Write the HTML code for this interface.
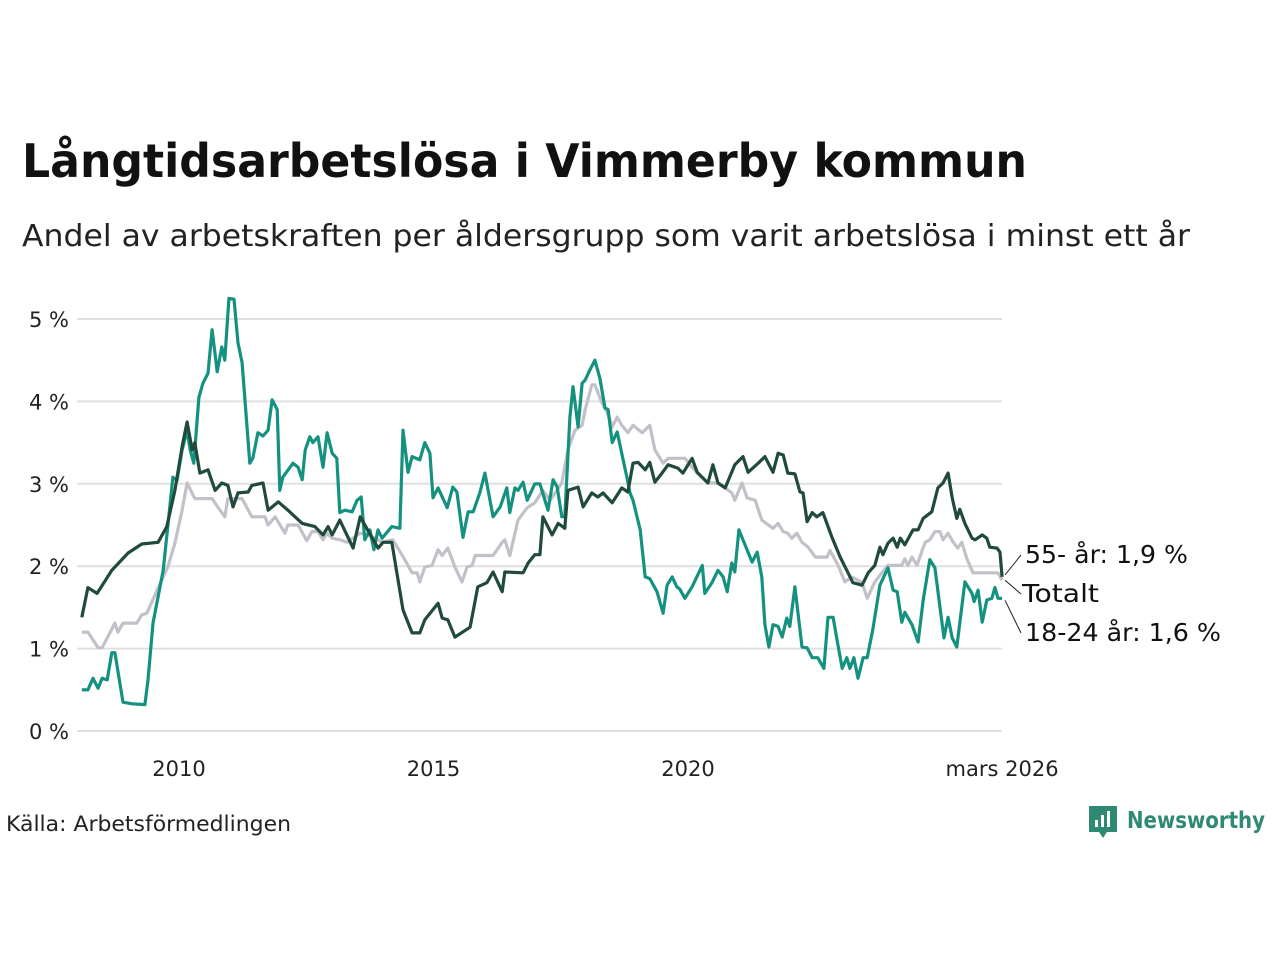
<!DOCTYPE html>
<html><head><meta charset="utf-8">
<style>
body{margin:0;background:#fff;width:1280px;height:960px;overflow:hidden;font-family:"DejaVu Sans","Liberation Sans",sans-serif;}
svg{position:absolute;left:0;top:0}
</style></head>
<body>
<svg id="chart" width="1280" height="960">
<text x="22" y="177" font-size="46" font-weight="bold" fill="#111" textLength="1005" lengthAdjust="spacingAndGlyphs">Långtidsarbetslösa i Vimmerby kommun</text>
<text x="22" y="246" font-size="30" fill="#222" textLength="1168" lengthAdjust="spacingAndGlyphs">Andel av arbetskraften per åldersgrupp som varit arbetslösa i minst ett år</text>
<g id="grid"></g><g id="series"></g><g id="labels"></g>
<text x="6" y="831" font-size="21" fill="#222" textLength="285" lengthAdjust="spacingAndGlyphs">Källa: Arbetsförmedlingen</text>
<g>
<path d="M1089 806 h28 v26 h-10 l-4 6 l-4 -6 h-10 z" fill="#2e8a72"/>
<rect x="1095" y="820" width="3" height="7" fill="#fff"/><rect x="1101" y="815" width="3" height="12" fill="#fff"/><rect x="1107" y="811" width="3" height="16" fill="#fff"/>
<text x="1127" y="828" font-size="23" font-weight="bold" fill="#2e8a72" textLength="138" lengthAdjust="spacingAndGlyphs">Newsworthy</text>
</g>
</svg>
<script>
const yTicks=[0,1,2,3,4,5];
const yTickLabels=["0 %","1 %","2 %","3 %","4 %","5 %"];
const xTicks=[2010,2015,2020,2026.17];
const xTickLabels=["2010","2015","2020","mars 2026"];
const dates55=[2008.09,2008.21,2008.39,2008.68,2009.0,2009.27,2009.59,2009.76,2009.92,2010.06,2010.16,2010.26,2010.31,2010.41,2010.57,2010.71,2010.84,2010.96,2011.06,2011.16,2011.36,2011.43,2011.65,2011.75,2011.95,2012.14,2012.42,2012.67,2012.83,2012.93,2013.01,2013.16,2013.42,2013.56,2013.91,2014.01,2014.18,2014.40,2014.58,2014.73,2014.83,2015.09,2015.17,2015.28,2015.42,2015.72,2015.87,2016.05,2016.17,2016.35,2016.40,2016.76,2016.86,2016.99,2017.09,2017.15,2017.33,2017.45,2017.58,2017.64,2017.84,2017.94,2018.11,2018.23,2018.33,2018.51,2018.70,2018.82,2018.92,2019.02,2019.16,2019.25,2019.35,2019.49,2019.61,2019.80,2019.90,2020.08,2020.18,2020.39,2020.49,2020.59,2020.73,2020.92,2021.08,2021.18,2021.38,2021.51,2021.67,2021.77,2021.87,2021.96,2022.10,2022.20,2022.26,2022.34,2022.44,2022.53,2022.65,2022.83,2022.99,2023.12,2023.24,2023.42,2023.54,2023.67,2023.77,2023.83,2023.93,2024.03,2024.11,2024.17,2024.26,2024.42,2024.52,2024.62,2024.79,2024.91,2025.01,2025.11,2025.19,2025.28,2025.34,2025.44,2025.58,2025.64,2025.78,2025.87,2025.93,2026.07,2026.13,2026.17];
const vals55=[1.38,1.74,1.67,1.95,2.16,2.27,2.29,2.48,2.92,3.45,3.75,3.41,3.5,3.13,3.17,2.92,3.01,2.98,2.72,2.89,2.90,2.98,3.01,2.68,2.78,2.68,2.52,2.48,2.38,2.48,2.38,2.56,2.22,2.6,2.22,2.29,2.29,1.47,1.19,1.19,1.35,1.55,1.37,1.35,1.14,1.26,1.75,1.80,1.93,1.69,1.93,1.92,2.04,2.14,2.14,2.6,2.38,2.52,2.46,2.92,2.96,2.72,2.89,2.84,2.89,2.77,2.95,2.90,3.25,3.26,3.17,3.26,3.02,3.13,3.23,3.19,3.13,3.31,3.14,3.01,3.23,3.01,2.95,3.23,3.33,3.14,3.25,3.33,3.14,3.37,3.35,3.13,3.12,2.90,2.89,2.54,2.65,2.6,2.65,2.35,2.11,1.95,1.80,1.77,1.92,2.01,2.23,2.14,2.28,2.34,2.23,2.34,2.26,2.44,2.44,2.58,2.66,2.95,3.01,3.13,2.83,2.58,2.69,2.52,2.34,2.32,2.38,2.34,2.23,2.22,2.17,1.87];
const datesTot=[2008.09,2008.21,2008.41,2008.49,2008.74,2008.80,2008.90,2009.17,2009.27,2009.37,2009.57,2009.78,2009.92,2010.06,2010.16,2010.31,2010.65,2010.77,2010.90,2010.96,2011.24,2011.43,2011.69,2011.75,2011.89,2012.08,2012.14,2012.34,2012.51,2012.61,2012.73,2012.83,2012.91,2013.01,2013.16,2013.30,2013.56,2013.79,2013.99,2014.20,2014.38,2014.58,2014.68,2014.73,2014.83,2014.97,2015.09,2015.17,2015.28,2015.42,2015.56,2015.66,2015.76,2015.82,2016.17,2016.35,2016.40,2016.50,2016.66,2016.84,2016.99,2017.15,2017.29,2017.52,2017.64,2017.78,2017.92,2017.98,2018.11,2018.17,2018.31,2018.41,2018.51,2018.61,2018.70,2018.82,2018.92,2019.10,2019.25,2019.35,2019.51,2019.61,2019.94,2020.08,2020.18,2020.39,2020.59,2020.73,2020.86,2020.92,2021.06,2021.16,2021.32,2021.45,2021.67,2021.77,2021.87,2021.96,2022.04,2022.14,2022.24,2022.36,2022.50,2022.73,2022.79,2022.95,2023.08,2023.22,2023.42,2023.52,2023.67,2023.81,2023.93,2024.20,2024.26,2024.32,2024.40,2024.50,2024.60,2024.66,2024.75,2024.85,2024.95,2025.01,2025.11,2025.21,2025.30,2025.38,2025.48,2025.60,2026.09,2026.17];
const valsTot=[1.20,1.20,1.01,1.01,1.31,1.20,1.31,1.31,1.41,1.43,1.71,1.99,2.28,2.68,3.01,2.82,2.82,2.71,2.60,2.82,2.82,2.60,2.60,2.50,2.60,2.40,2.50,2.50,2.31,2.42,2.42,2.32,2.40,2.34,2.32,2.29,2.40,2.36,2.29,2.32,2.14,1.92,1.92,1.81,1.99,2.01,2.20,2.13,2.22,1.99,1.81,1.99,2.01,2.13,2.13,2.29,2.32,2.13,2.56,2.71,2.77,2.92,2.80,3.01,3.41,3.65,3.71,3.90,4.20,4.20,3.98,3.87,3.69,3.81,3.71,3.62,3.71,3.62,3.71,3.41,3.25,3.31,3.31,3.20,3.13,3.01,3.01,2.95,2.89,2.80,3.01,2.83,2.80,2.56,2.46,2.52,2.42,2.40,2.34,2.40,2.29,2.23,2.11,2.11,2.19,2.01,1.81,1.87,1.80,1.61,1.81,1.92,2.01,2.01,2.09,2.01,2.11,2.01,2.19,2.29,2.32,2.42,2.42,2.32,2.40,2.29,2.22,2.29,2.09,1.92,1.92,1.83];
const dates1824=[2008.09,2008.21,2008.31,2008.41,2008.49,2008.59,2008.68,2008.74,2008.90,2009.08,2009.33,2009.39,2009.49,2009.69,2009.88,2009.96,2010.06,2010.16,2010.22,2010.29,2010.39,2010.47,2010.57,2010.65,2010.75,2010.84,2010.90,2010.98,2011.08,2011.16,2011.24,2011.39,2011.45,2011.55,2011.65,2011.75,2011.83,2011.93,2011.98,2012.04,2012.24,2012.34,2012.42,2012.48,2012.57,2012.63,2012.73,2012.83,2012.91,2013.01,2013.10,2013.16,2013.26,2013.40,2013.50,2013.58,2013.65,2013.75,2013.83,2013.91,2013.99,2014.18,2014.34,2014.40,2014.50,2014.58,2014.73,2014.83,2014.93,2014.99,2015.09,2015.27,2015.38,2015.46,2015.58,2015.68,2015.78,2015.91,2016.01,2016.17,2016.31,2016.44,2016.50,2016.60,2016.66,2016.76,2016.84,2016.99,2017.09,2017.25,2017.35,2017.43,2017.52,2017.58,2017.68,2017.74,2017.84,2017.92,2017.98,2018.07,2018.17,2018.27,2018.37,2018.43,2018.51,2018.61,2018.72,2018.80,2018.86,2018.92,2019.06,2019.16,2019.25,2019.39,2019.51,2019.59,2019.69,2019.78,2019.84,2019.94,2020.08,2020.28,2020.33,2020.47,2020.59,2020.69,2020.77,2020.86,2020.92,2021.00,2021.12,2021.26,2021.36,2021.45,2021.51,2021.59,2021.67,2021.77,2021.85,2021.94,2022.00,2022.10,2022.24,2022.34,2022.44,2022.55,2022.67,2022.75,2022.85,2022.93,2023.03,2023.12,2023.18,2023.26,2023.34,2023.44,2023.52,2023.63,2023.77,2023.93,2024.03,2024.11,2024.20,2024.26,2024.40,2024.52,2024.62,2024.75,2024.85,2024.95,2025.03,2025.11,2025.19,2025.28,2025.44,2025.58,2025.62,2025.70,2025.78,2025.87,2025.97,2026.03,2026.09,2026.17];
const vals1824=[0.50,0.50,0.64,0.52,0.64,0.62,0.95,0.95,0.35,0.33,0.32,0.62,1.31,1.95,3.08,3.04,3.41,3.65,3.41,3.25,4.05,4.22,4.34,4.87,4.36,4.66,4.50,5.25,5.24,4.71,4.47,3.25,3.31,3.62,3.58,3.65,4.02,3.90,2.92,3.08,3.25,3.20,3.05,3.41,3.57,3.50,3.57,3.20,3.62,3.37,3.31,2.65,2.68,2.66,2.80,2.84,2.32,2.44,2.20,2.44,2.34,2.48,2.46,3.65,3.14,3.33,3.29,3.50,3.37,2.83,2.95,2.71,2.96,2.90,2.35,2.66,2.66,2.89,3.13,2.60,2.72,2.95,2.65,2.95,2.92,3.02,2.80,3.0,3.0,2.68,3.05,2.96,2.60,2.60,3.81,4.18,3.69,4.22,4.26,4.38,4.50,4.28,3.92,3.90,3.50,3.63,3.31,3.08,2.89,2.80,2.44,1.87,1.85,1.69,1.43,1.77,1.87,1.75,1.72,1.61,1.75,2.01,1.67,1.80,1.95,1.87,1.69,2.04,1.93,2.44,2.26,2.05,2.17,1.87,1.29,1.02,1.29,1.27,1.14,1.37,1.27,1.75,1.02,1.01,0.89,0.89,0.76,1.38,1.38,1.10,0.76,0.89,0.76,0.89,0.64,0.89,0.89,1.23,1.77,1.98,1.71,1.69,1.32,1.44,1.29,1.08,1.59,2.08,1.98,1.50,1.13,1.38,1.13,1.02,1.81,1.67,1.57,1.71,1.32,1.59,1.61,1.74,1.61,1.61];

const NS="http://www.w3.org/2000/svg";
const xS=v=>179+(v-2010)*50.9;
const yS=v=>731-v*82.4;
function mk(tag,attrs,parent){const e=document.createElementNS(NS,tag);for(const k in attrs)e.setAttribute(k,attrs[k]);parent.appendChild(e);return e;}
const grid=document.getElementById('grid');
yTicks.forEach((t,i)=>{
  const l=mk('line',{x1:77,x2:1002,y1:yS(t),y2:yS(t),stroke:'#e0e0e0','stroke-width':2},grid);
  
  
  const tx=mk('text',{x:69,y:yS(t)+8,'text-anchor':'end','font-size':21,fill:'#222'},grid);
  tx.textContent=yTickLabels[i];
  
  
});
xTicks.forEach((t,i)=>{
  const tx=mk('text',{x:xS(t),y:776,'text-anchor':'middle','font-size':21,fill:'#222'},grid);
  tx.textContent=xTickLabels[i];
  
  
});
const ser=document.getElementById('series');
function line(d,v,color,name){
  const p=mk('polyline',{points:d.map((x,i)=>xS(x).toFixed(1)+','+yS(v[i]).toFixed(1)).join(' '),fill:'none',stroke:color,'stroke-width':3.2,'stroke-linejoin':'round'},ser);
  
  
}
line(datesTot,valsTot,'#c2c0c8','line-totalt');
line(dates1824,vals1824,'#14917f','line-18-24');
line(dates55,vals55,'#1f4a3c','line-55-plus');
const lab=document.getElementById('labels');
function label(txt,y,ly,name,w,lx){
  const ex=xS(2026.17)+3;
  mk('line',{x1:ex,y1:ly,x2:1021,y2:y-8,stroke:'#222','stroke-width':1},lab);
  const t=mk('text',{x:lx,y:y,'font-size':25,fill:'#111',textLength:w,lengthAdjust:'spacingAndGlyphs'},lab);
  t.textContent=txt;
  
  
}
label('55- år: 1,9 %',563,yS(vals55[vals55.length-1])-2,'label-55-plus',163,1025);
label('Totalt',602,yS(valsTot[valsTot.length-1]),'label-totalt',77,1022);
label('18-24 år: 1,6 %',641,yS(vals1824[vals1824.length-1])+2,'label-18-24',196,1025);
</script>
</body></html>
